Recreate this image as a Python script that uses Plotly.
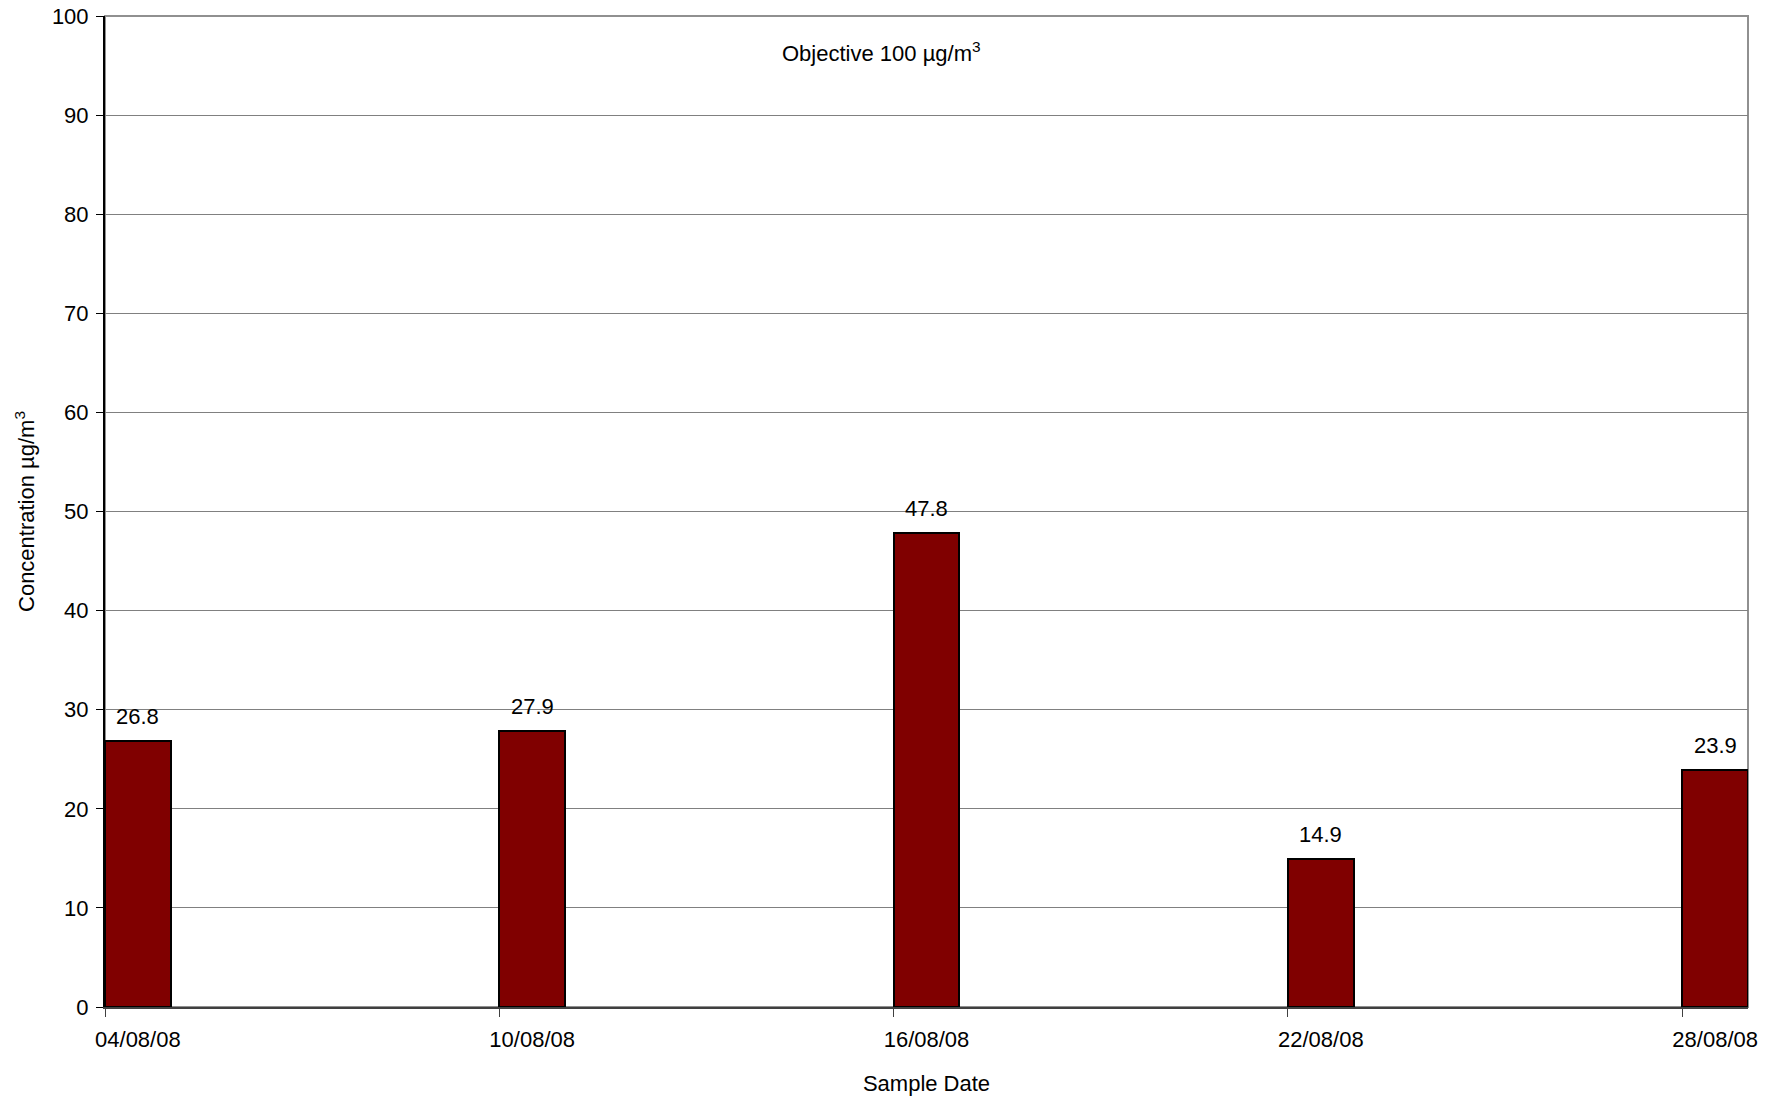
import plotly.graph_objects as go
import pandas as pd

# Data
sample_dates = ["04/08/08", "10/08/08", "16/08/08", "22/08/08", "28/08/08"]
concentration = [26.8, 27.9, 47.8, 14.9, 23.9]
y_ticks = [0, 10, 20, 30, 40, 50, 60, 70, 80, 90, 100]

dates = pd.to_datetime(sample_dates, format="%d/%m/%y")
day = pd.Timedelta(days=1)
centers = [d + day / 2 for d in dates]

FONT = "Liberation Sans, Arial, Helvetica, sans-serif"
FS = 22

fig = go.Figure()
fig.add_trace(go.Bar(
    x=centers,
    y=concentration,
    width=86400000,
    marker=dict(color="#800000", line=dict(color="black", width=2)),
    hoverinfo="skip",
))

for c, v in zip(centers, concentration):
    fig.add_annotation(x=c, y=v, text=f"{v:.1f}", showarrow=False,
                       yanchor="bottom", yshift=10,
                       font=dict(family=FONT, size=FS, color="black"))

fig.update_layout(
    width=1780, height=1096,
    margin=dict(l=105, r=32, t=16, b=89, autoexpand=False),
    plot_bgcolor="white", paper_bgcolor="white",
    showlegend=False,
    font=dict(family=FONT, size=FS, color="black"),
    bargap=0,
)

fig.update_xaxes(
    type="date",
    range=[dates[0], dates[-1] + day],
    tickmode="array",
    tickvals=centers,
    ticktext=sample_dates,
    ticks="",
    ticklabelstandoff=12,
    ticklabeloverflow="allow",
    showgrid=False,
    showline=True, linecolor="#404040", linewidth=2,
    tickfont=dict(family=FONT, size=FS, color="black"),
    title=dict(text="Sample Date", font=dict(family=FONT, size=FS, color="black"), standoff=25),
    minor=dict(tickmode="array", tickvals=list(dates), ticks="outside", ticklen=8,
               tickcolor="#404040", tickwidth=1, showgrid=False),
    zeroline=False,
    automargin=False,
)

fig.update_yaxes(
    range=[0, 100],
    tickmode="array",
    tickvals=y_ticks,
    ticks="outside", ticklen=7, tickcolor="black",
    ticklabelstandoff=3,
    ticklabeloverflow="allow",
    showgrid=True, gridcolor="#808080", gridwidth=1,
    showline=True, linecolor="black", linewidth=2,
    tickfont=dict(family=FONT, size=FS, color="black"),
    title=dict(text="Concentration µg/m<sup>3</sup>", font=dict(family=FONT, size=FS, color="black"), standoff=11),
    zeroline=False,
    automargin=False,
)

# plot border (top/right in grey)
fig.add_shape(type="rect", xref="paper", yref="paper", x0=0, y0=0, x1=1, y1=1,
              line=dict(color="#909090", width=2), layer="below")

fig.add_annotation(
    xref="paper", yref="paper", x=0.4729, y=0.98,
    text="Objective 100 µg/m<sup>3</sup>", showarrow=False,
    font=dict(family=FONT, size=FS, color="black"),
)

fig.write_html("out.html", config={"displayModeBar": False},
               post_script="document.body.style.margin='0';")
